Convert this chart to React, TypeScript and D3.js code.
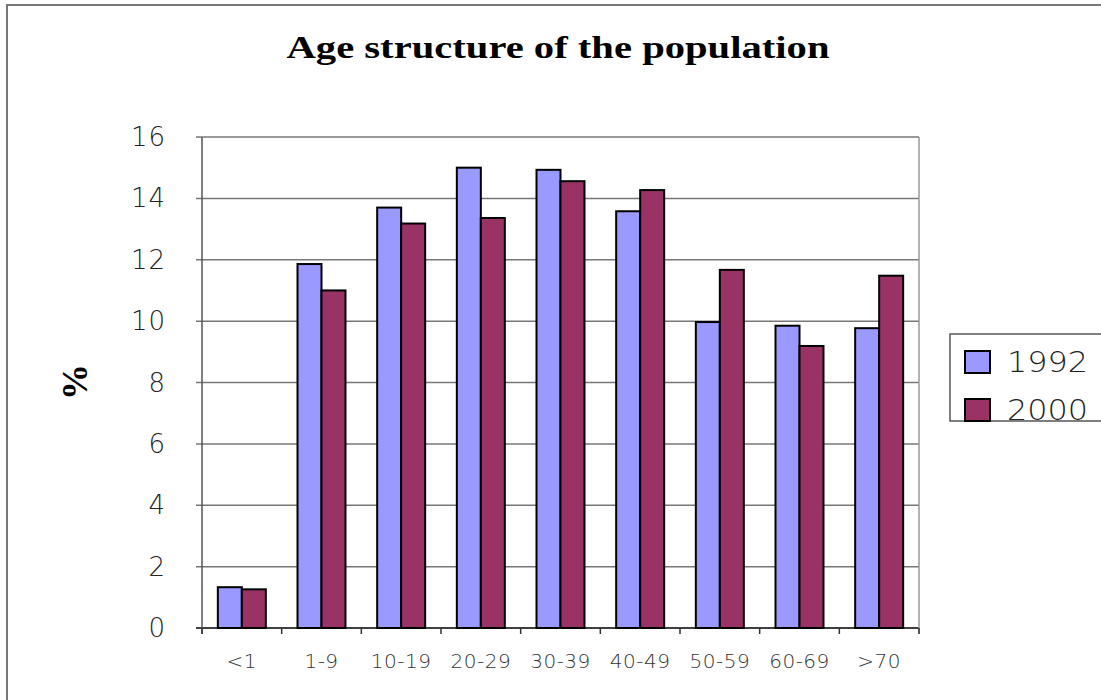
import React, { useEffect, useRef } from "react";
import * as d3 from "d3";

const categories = ["<1", "1-9", "10-19", "20-29", "30-39", "40-49", "50-59", "60-69", ">70"];
const seriesNames = ["1992", "2000"];
const values1992 = [1.33, 11.86, 13.7, 15.0, 14.93, 13.58, 9.97, 9.85, 9.77];
const values2000 = [1.26, 11.0, 13.18, 13.36, 14.56, 14.27, 11.67, 9.19, 11.48];
const yTicks = [0, 2, 4, 6, 8, 10, 12, 14, 16];
const colors = ["#9999ff", "#993366"];

const W = 1101;
const H = 700;

export default function App() {
  const ref = useRef<SVGSVGElement>(null);

  useEffect(() => {
    const svg = d3.select(ref.current);
    svg.selectAll("*").remove();

    const left = 202, right = 919, top = 137, bottom = 628;

    // outer frame
    svg.append("rect").attr("x", 7).attr("y", 5).attr("width", W + 20).attr("height", H + 20)
      .attr("fill", "white").attr("stroke", "#777").attr("stroke-width", 2);

    const x = d3.scaleBand().domain(categories).range([left, right]).paddingInner(0).paddingOuter(0);
    const inner = d3.scaleBand().domain(seriesNames).range([0, x.bandwidth()]).paddingInner(0).paddingOuter(0.66);
    const y = d3.scaleLinear().domain([0, 16]).range([bottom, top]);

    // gridlines
    svg.append("g").selectAll("line").data(yTicks).join("line")
      .attr("x1", left - 6).attr("x2", right)
      .attr("y1", (d) => y(d)).attr("y2", (d) => y(d))
      .attr("stroke", (d) => (d === 0 ? "#000" : "#777")).attr("stroke-width", 1.5);

    // plot frame: left and right
    svg.append("line").attr("x1", left).attr("x2", left).attr("y1", top).attr("y2", bottom + 6)
      .attr("stroke", "#555").attr("stroke-width", 1.5);
    svg.append("line").attr("x1", right).attr("x2", right).attr("y1", top).attr("y2", bottom + 6)
      .attr("stroke", "#999").attr("stroke-width", 1.5);

    // x ticks
    const tickPos = categories.map((c) => x(c) as number).concat([right]);
    svg.append("g").selectAll("line").data(tickPos).join("line")
      .attr("x1", (d) => d).attr("x2", (d) => d).attr("y1", bottom).attr("y2", bottom + 6)
      .attr("stroke", "#333").attr("stroke-width", 1.5);

    // y tick labels
    svg.append("g").selectAll("text").data(yTicks).join("text")
      .attr("x", 166).attr("y", (d) => y(d)).attr("dy", "0.35em")
      .attr("text-anchor", "end")
      .attr("font-family", "DejaVu Sans").attr("font-size", 26).attr("font-weight", 200)
      .attr("letter-spacing", 1)
      .attr("fill", "#222")
      .text((d) => String(d));

    // x labels
    svg.append("g").selectAll("text").data(categories).join("text")
      .attr("x", (d) => (x(d) as number) + x.bandwidth() / 2).attr("y", 668)
      .attr("text-anchor", "middle")
      .attr("font-family", "DejaVu Sans").attr("font-size", 20).attr("font-weight", 200)
      .attr("letter-spacing", 0.5)
      .attr("fill", "#333")
      .text((d) => d);

    // bars
    const seriesVals = [values1992, values2000];
    seriesNames.forEach((s, si) => {
      svg.append("g").selectAll("rect").data(categories).join("rect")
        .attr("x", (d) => (x(d) as number) + (inner(s) as number))
        .attr("width", inner.bandwidth())
        .attr("y", (_d, i) => y(seriesVals[si][i]))
        .attr("height", (_d, i) => bottom - y(seriesVals[si][i]))
        .attr("fill", colors[si]).attr("stroke", "#000").attr("stroke-width", 2);
    });

    // title
    svg.append("text").attr("x", 558).attr("y", 58).attr("text-anchor", "middle")
      .attr("font-family", "Liberation Serif").attr("font-weight", "bold").attr("font-size", 31)
      .attr("textLength", 543).attr("lengthAdjust", "spacingAndGlyphs")
      .attr("fill", "#000")
      .text("Age structure of the population");

    // y label
    svg.append("text").attr("transform", "translate(87,382) rotate(-90)")
      .attr("text-anchor", "middle")
      .attr("font-family", "Liberation Serif").attr("font-weight", "bold").attr("font-size", 36)
      .attr("fill", "#000").text("%");

    // legend
    const lg = svg.append("g");
    lg.append("rect").attr("x", 950).attr("y", 334).attr("width", 170).attr("height", 87)
      .attr("fill", "white").attr("stroke", "#555").attr("stroke-width", 1.5);
    seriesNames.forEach((s, i) => {
      const cy = 362 + i * 48;
      lg.append("rect").attr("x", 965).attr("y", cy - 11).attr("width", 25).attr("height", 22)
        .attr("fill", colors[i]).attr("stroke", "#000").attr("stroke-width", 2);
      lg.append("text").attr("x", 1007).attr("y", cy).attr("dy", "0.36em")
        .attr("font-family", "DejaVu Sans").attr("font-size", 28).attr("font-weight", 200)
        .attr("textLength", 81).attr("lengthAdjust", "spacingAndGlyphs")
        .attr("fill", "#222").text(s);
    });
  }, []);

  return (
    <div style={{ position: "absolute", left: 0, top: 0 }}>
      <svg ref={ref} width={W} height={H} style={{ display: "block", background: "white" }} />
    </div>
  );
}
